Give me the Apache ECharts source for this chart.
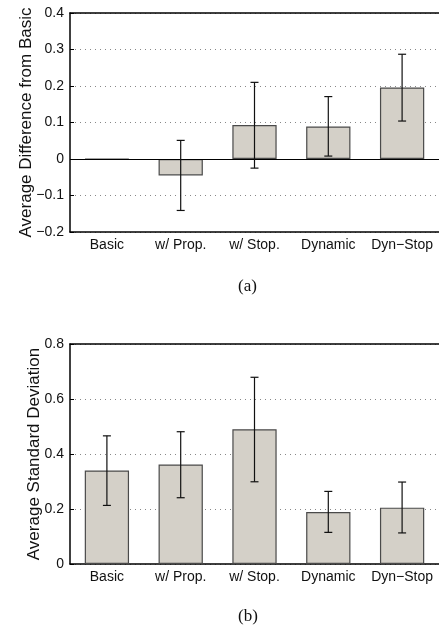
<!DOCTYPE html>
<html>
<head>
<meta charset="utf-8">
<script src="https://cdn.jsdelivr.net/npm/echarts@6/dist/echarts.min.js"></script>
<style>
  html, body { margin: 0; padding: 0; background: #fff; overflow: hidden; }
  #chart { width: 439px; height: 626px; }
</style>
</head>
<body>
<div id="chart"></div>
<script>
// categories shared by both panels
var categories = ['Basic', 'w/ Prop.', 'w/ Stop.', 'Dynamic', 'Dyn\u2212Stop'];

// panel (a): average difference from Basic
var diffMean = [-0.001, -0.045, 0.093, 0.089, 0.196];
var diffLow  = [0, -0.141, -0.025, 0.008, 0.104];
var diffHigh = [0, 0.051, 0.210, 0.171, 0.287];
var diffTicks = [-0.2, -0.1, 0, 0.1, 0.2, 0.3, 0.4];

// panel (b): average standard deviation
var sdMean = [0.340, 0.362, 0.490, 0.189, 0.205];
var sdLow  = [0.213, 0.241, 0.299, 0.115, 0.113];
var sdHigh = [0.466, 0.481, 0.679, 0.264, 0.298];
var sdTicks = [0, 0.2, 0.4, 0.6, 0.8];

var captions = ['(a)', '(b)'];

function tickFmt(v) {
    if (Math.abs(v) < 1e-9) return '0';
    return v.toFixed(1).replace('-', '\u2212');
}

function errData(lo, hi) {
    return lo.map(function(l, i) { return [i, l, hi[i]]; });
}

function renderErr(params, api) {
    var x = api.value(0);
    var lo = api.value(1), hi = api.value(2);
    if (lo === hi) return null;
    var p1 = api.coord([x, lo]);
    var p2 = api.coord([x, hi]);
    var w = 4;
    var st = { stroke: '#111', lineWidth: 1.2 };
    return {
        type: 'group',
        children: [
            { type: 'line', shape: { x1: p1[0], y1: p1[1], x2: p2[0], y2: p2[1] }, style: st },
            { type: 'line', shape: { x1: p1[0] - w, y1: p1[1], x2: p1[0] + w, y2: p1[1] }, style: st },
            { type: 'line', shape: { x1: p2[0] - w, y1: p2[1], x2: p2[0] + w, y2: p2[1] }, style: st }
        ]
    };
}

var font = 'Liberation Sans, Arial, sans-serif';

function bottomAxis(idx) {
    return {
        type: 'category', gridIndex: idx, data: categories, position: 'bottom',
        axisLine: { onZero: false, lineStyle: { color: '#000', width: 1.5 } },
        axisTick: { inside: true, alignWithLabel: true, length: 4, lineStyle: { color: '#000' } },
        axisLabel: { interval: 0, color: '#111', fontSize: 14, fontFamily: font, margin: 6 },
        splitLine: { show: false }
    };
}
function topAxis(idx) {
    return {
        type: 'category', gridIndex: idx, data: categories, position: 'top',
        axisLine: { onZero: false, lineStyle: { color: '#000', width: 1.5 } },
        axisTick: { inside: true, alignWithLabel: true, length: 4, lineStyle: { color: '#000' } },
        axisLabel: { show: false },
        splitLine: { show: false }
    };
}
function valueAxis(idx, ticks, step, name, gap) {
    return {
        type: 'value', gridIndex: idx,
        min: ticks[0], max: ticks[ticks.length - 1], interval: step,
        name: name, nameLocation: 'middle', nameGap: gap, nameMoveOverlap: false,
        nameTextStyle: { color: '#111', fontSize: 17, fontFamily: font },
        axisLine: { show: true, lineStyle: { color: '#000', width: 1.5 } },
        axisTick: { show: true, inside: true, length: 4, lineStyle: { color: '#000' } },
        axisLabel: { color: '#111', fontSize: 14, fontFamily: font, margin: 6, formatter: tickFmt },
        splitLine: { show: true, lineStyle: { color: '#888', type: [1, 4], width: 1 } }
    };
}

var barStyle = { color: '#d4d0c8', borderColor: '#4a4a4a', borderWidth: 1.2 };

var option = {
    animation: false,
    backgroundColor: '#fff',
    grid: [
        { left: 70, right: -4, top: 13, height: 219 },
        { left: 70, right: -4, top: 344, height: 220 }
    ],
    xAxis: [bottomAxis(0), topAxis(0), bottomAxis(1), topAxis(1)],
    yAxis: [
        valueAxis(0, diffTicks, 0.1, 'Average Difference from Basic', 35),
        valueAxis(1, sdTicks, 0.2, 'Average Standard Deviation', 27)
    ],
    series: [
        {
            type: 'bar', xAxisIndex: 0, yAxisIndex: 0, data: diffMean, barWidth: '60%',
            itemStyle: barStyle,
            markLine: {
                silent: true, symbol: 'none', label: { show: false },
                lineStyle: { color: '#000', type: 'solid', width: 1.2 },
                data: [{ yAxis: 0 }]
            }
        },
        { type: 'custom', xAxisIndex: 0, yAxisIndex: 0, data: errData(diffLow, diffHigh),
          renderItem: renderErr, encode: { x: 0, y: [1, 2] }, z: 5 },
        { type: 'bar', xAxisIndex: 2, yAxisIndex: 1, data: sdMean, barWidth: '60%', itemStyle: barStyle },
        { type: 'custom', xAxisIndex: 2, yAxisIndex: 1, data: errData(sdLow, sdHigh),
          renderItem: renderErr, encode: { x: 0, y: [1, 2] }, z: 5 }
    ],
    graphic: [
        { type: 'text', left: 238, top: 278, style: { text: captions[0], font: '17px "Liberation Serif", "Times New Roman", serif', fill: '#111' } },
        { type: 'text', left: 238, top: 608, style: { text: captions[1], font: '17px "Liberation Serif", "Times New Roman", serif', fill: '#111' } }
    ]
};

var myChart = echarts.init(document.getElementById('chart'));
myChart.setOption(option);
</script>
</body>
</html>
